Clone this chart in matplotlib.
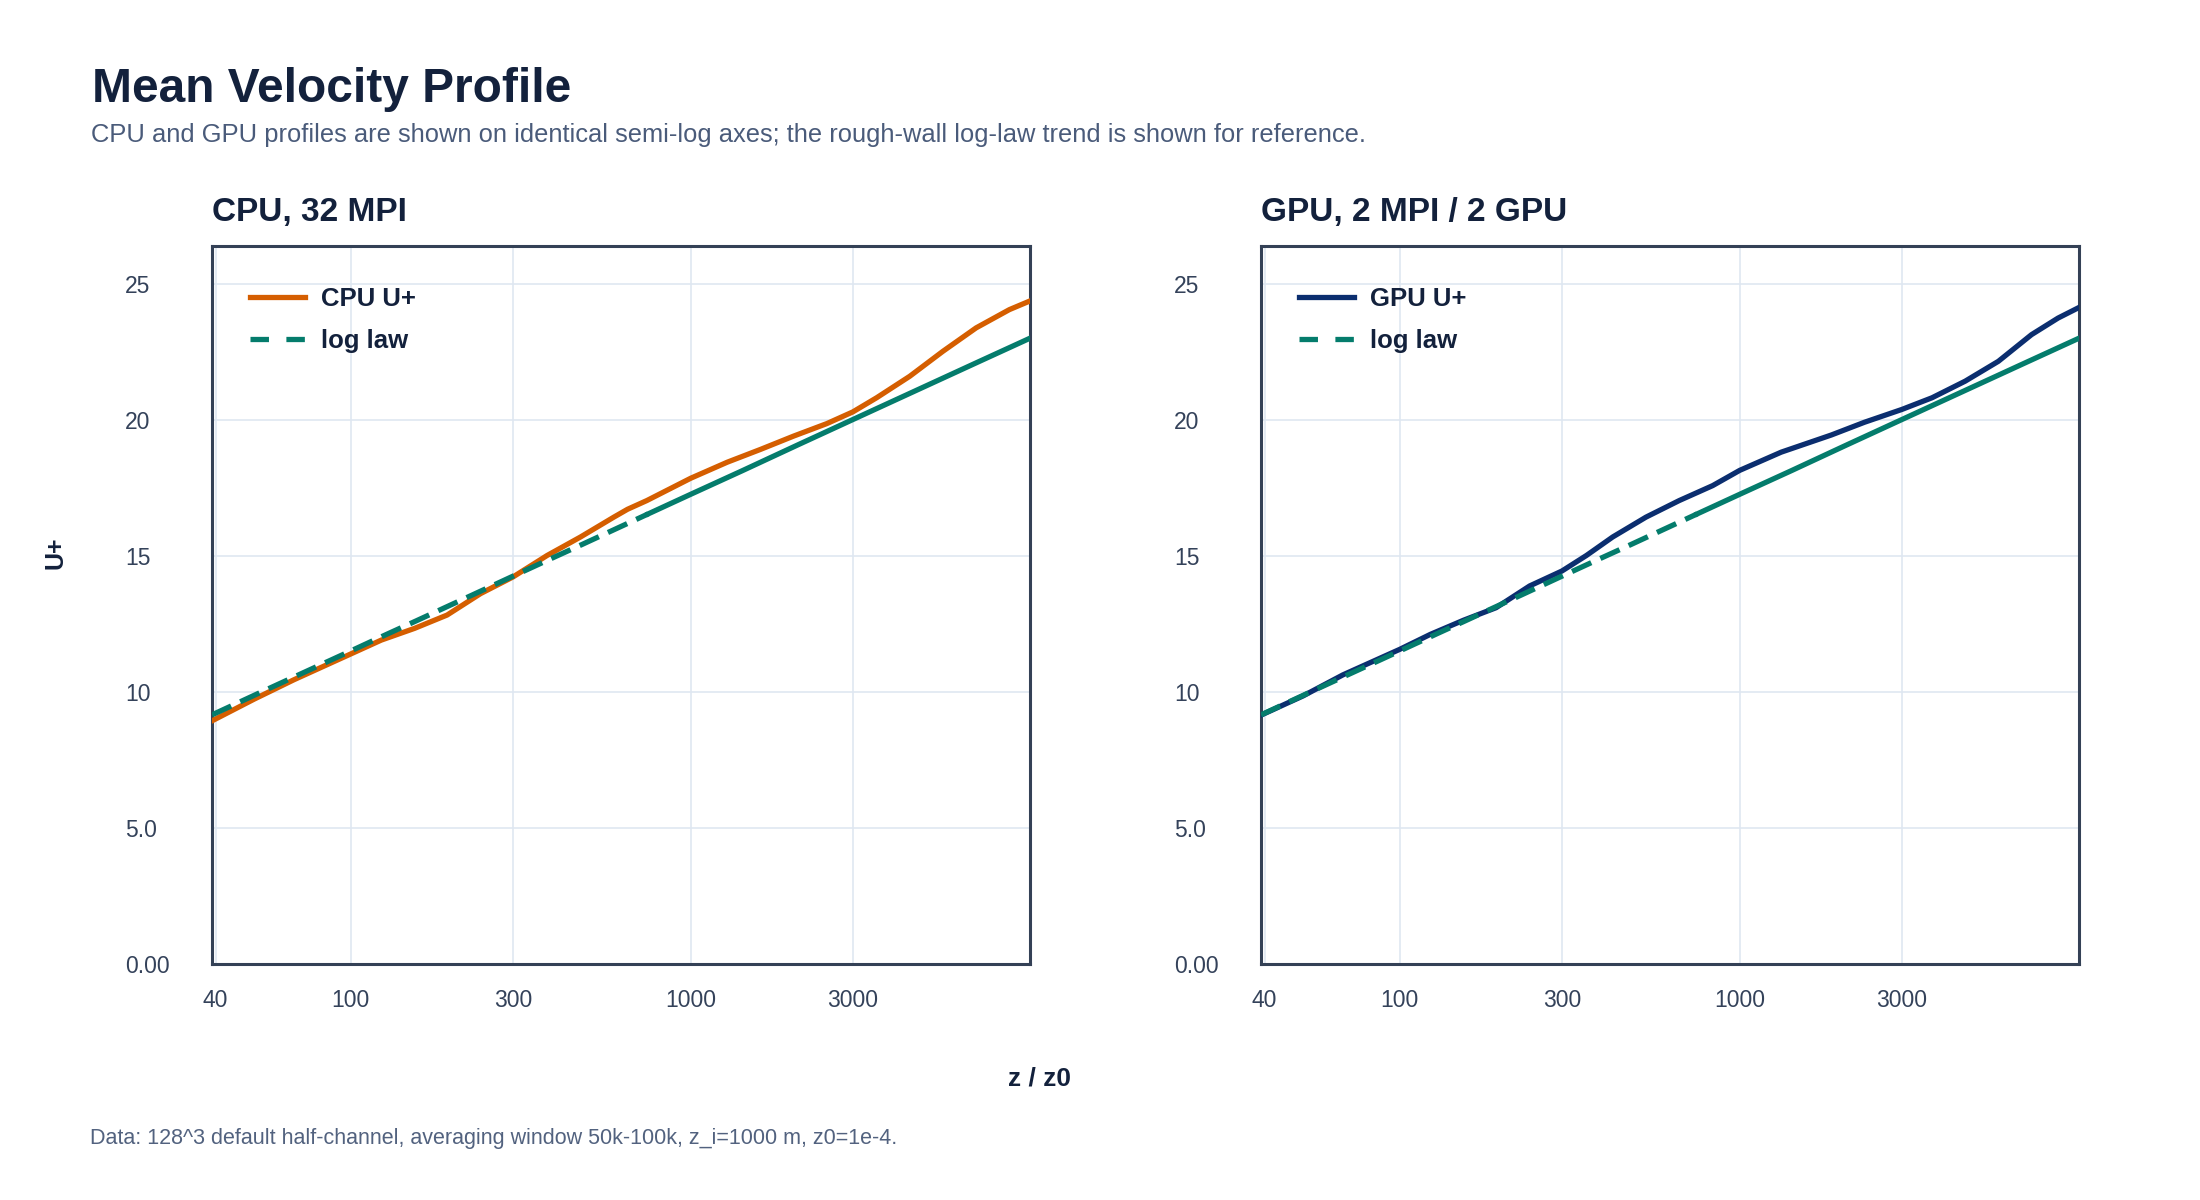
import matplotlib
matplotlib.use("Agg")
import matplotlib.pyplot as plt
from matplotlib.lines import Line2D

plt.rcParams['font.family'] = ['Liberation Sans', 'DejaVu Sans']

# CPU, 32 MPI  (z / z0, U+)
cpu_z = [39.06, 52, 68, 100, 123, 154, 192, 241, 300, 378, 474, 594, 652, 743, 1000,
         1281, 1604, 2008, 2515, 3000, 3524, 4411, 5524, 6916, 8660, 9961]
cpu_u = [8.94, 9.74, 10.45, 11.40, 11.91, 12.34, 12.83, 13.62, 14.23, 15.02, 15.70, 16.43,
         16.72, 17.04, 17.86, 18.45, 18.92, 19.41, 19.87, 20.30, 20.82, 21.61, 22.53, 23.39,
         24.06, 24.38]

# GPU, 2 MPI / 2 GPU
gpu_z = [39.06, 52, 68, 100, 123, 154, 192, 241, 300, 354, 423, 530, 664, 833, 1000,
         1325, 1860, 2330, 3000, 3681, 4607, 5768, 7220, 8643, 9961]
gpu_u = [9.15, 9.86, 10.63, 11.57, 12.12, 12.64, 13.10, 13.90, 14.45, 15.02, 15.70, 16.43,
         17.04, 17.59, 18.15, 18.82, 19.45, 19.92, 20.39, 20.82, 21.43, 22.16, 23.14, 23.75,
         24.14]

# rough-wall log law
law_z = [39.06, 52, 68, 100, 129, 156, 192, 228, 300, 389, 480, 600, 750, 1000, 1420,
         2077, 3038, 4797, 7020, 9961]
law_u = [9.16, 9.88, 10.55, 11.51, 12.15, 12.62, 13.14, 13.57, 14.26, 14.91, 15.43, 15.99,
         16.55, 17.27, 18.14, 19.10, 20.05, 21.19, 22.14, 23.01]

x_ticks = [40, 100, 300, 1000, 3000]
x_tick_labels = ['40', '100', '300', '1000', '3000']
y_ticks = [0, 5, 10, 15, 20, 25]
y_tick_labels = ['0.00', '5.0', '10', '15', '20', '25']

panels = [('CPU, 32 MPI', 'CPU U+', cpu_z, cpu_u, '#d55e00'),
          ('GPU, 2 MPI / 2 GPU', 'GPU U+', gpu_z, gpu_u, '#0b2e6f')]

dark = '#13213c'
spine_col = '#344156'
grid_col = '#dfe7f1'
tick_col = '#34425a'
teal = '#047c6c'
lw = 3.8

W, H = 2200, 1200
fig = plt.figure(figsize=(22, 12), dpi=100)

lefts = [212, 1261]
top, bottom, width = 246, 964, 818

# in the reference the dashes of the log law run together past z/z0 ~ 750
split = 13

for left, (title, label, zs, us, col) in zip(lefts, panels):
    ax = fig.add_axes([left / W, 1 - bottom / H, width / W, (bottom - top) / H])
    ax.plot(zs, us, color=col, lw=lw, zorder=3)
    ld, = ax.plot(law_z[:split], law_u[:split], color=teal, lw=lw, zorder=4)
    ld.set_dashes((4.0, 1.9))
    ax.plot(law_z[split - 1:], law_u[split - 1:], color=teal, lw=lw, zorder=4)

    ax.set_xscale('log')
    ax.set_xlim(law_z[0], law_z[-1])
    ax.set_ylim(0, 26.4)
    ax.set_xticks(x_ticks, x_tick_labels)
    ax.minorticks_off()
    ax.set_yticks(y_ticks, y_tick_labels)
    ax.grid(True, color=grid_col, lw=1.2)
    ax.set_axisbelow(True)
    for s in ax.spines.values():
        s.set_color(spine_col)
        s.set_linewidth(2.2)
    ax.tick_params(axis='both', length=0, labelsize=16.5, labelcolor=tick_col)
    ax.tick_params(axis='y', pad=62.6)
    ax.tick_params(axis='x', pad=18)
    plt.setp(ax.get_yticklabels(), ha='left')

    ax.set_title(title, loc='left', fontsize=24, fontweight='bold', color=dark, pad=18)

    handles = [Line2D([], [], color=col, lw=lw),
               Line2D([], [], color=teal, lw=lw, dashes=(3.5, 3.3))]
    leg = ax.legend(handles, [label, 'log law'], loc='upper left',
                    bbox_to_anchor=(0.046, 0.943), frameon=False,
                    borderaxespad=0, borderpad=0, prop={'weight': 'bold', 'size': 18.5},
                    handlelength=2.15, handletextpad=0.62, labelspacing=0.71)
    for t in leg.get_texts():
        t.set_color(dark)

fig.text(92 / W, 1 - 102 / H, 'Mean Velocity Profile', fontsize=34.5, fontweight='bold',
         color=dark, va='baseline')
fig.text(91 / W, 1 - 142 / H,
         'CPU and GPU profiles are shown on identical semi-log axes; the rough-wall log-law trend is shown for reference.',
         fontsize=18.4, color='#4a5b7a', va='baseline')
fig.text(1040 / W, 1 - 1085 / H, 'z / z0', fontsize=19, fontweight='bold', color=dark,
         ha='center', va='baseline')
fig.text(55 / W, 1 - 553 / H, 'U+', fontsize=18, fontweight='bold', color=dark,
         rotation=90, ha='center', va='center')
fig.text(90 / W, 1 - 1144 / H,
         'Data: 128^3 default half-channel, averaging window 50k-100k, z_i=1000 m, z0=1e-4.',
         fontsize=15.5, color='#52627f', va='baseline')

fig.savefig('out.png', dpi=100, facecolor='white')
